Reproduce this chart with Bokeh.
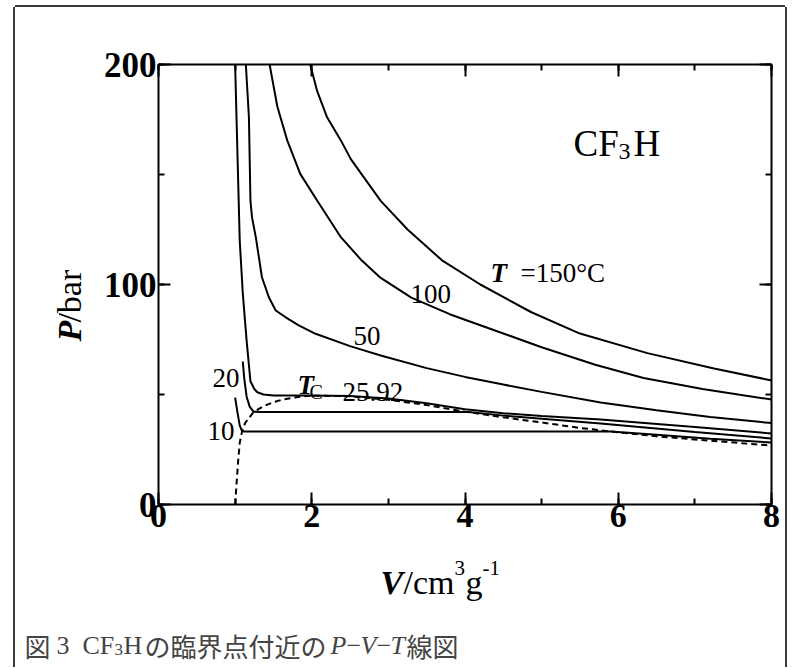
import math
from bokeh.plotting import figure
from bokeh.layouts import column, row
from bokeh.models import Label, LinearAxis, SingleIntervalTicker, Range1d, Spacer
from bokeh.embed import file_html
from bokeh.resources import INLINE

# ---------------- data ----------------
x_range = (0, 8)
y_range = (0, 200)

v_150 = [1.98, 2.07, 2.2, 2.38, 2.51, 2.9, 3.25, 3.7, 4.2, 4.86, 5.5, 6.38, 7.25, 8.0]
p_150 = [200, 188, 176, 165.5, 157, 138, 125, 111, 100, 87.5, 77.7, 68.8, 61.8, 56.4]

v_100 = [1.45, 1.55, 1.68, 1.85, 2.07, 2.38, 2.65, 2.9, 3.3, 3.8, 4.2, 5.0, 5.7, 6.33, 7.1, 8.0]
p_100 = [200, 181, 165.5, 150.3, 138.2, 121.5, 111, 103, 94, 86.5, 81.5, 71.5, 63.5, 57.5, 52.5, 47.7]

v_50 = [1.14, 1.18, 1.2, 1.22, 1.27, 1.31, 1.35, 1.44, 1.53, 1.66, 1.83, 2.05, 2.5, 2.9,
        3.5, 4.0, 4.5, 5.0, 5.77, 6.5, 7.2, 8.0]
p_50 = [200, 176, 138, 130.6, 121.5, 112.4, 103.3, 94.2, 88.2, 85.1, 81.4, 77.6, 72, 67.7,
        62, 58, 54.5, 51.2, 46.4, 42.8, 39.8, 37]

v_tc = [1.0, 1.03, 1.06, 1.1, 1.15, 1.2, 1.25, 1.29, 1.37, 1.5, 2.0, 2.5, 3.0, 3.5, 4.0,
        4.5, 5.0, 5.77, 7.0, 8.0]
p_tc = [200, 160, 120, 96, 74.5, 56, 52.5, 51, 50, 49.6, 49.5, 49.3, 48.2, 46, 43.3,
        41.5, 40.2, 38.6, 35.2, 32.3]

v_20 = [1.10, 1.12, 1.15, 1.19, 1.24, 1.35, 4.05, 4.5, 5.0, 5.77, 7.0, 8.0]
p_20 = [65, 57, 49, 44.5, 42.2, 42, 42, 40.4, 39.0, 36.8, 33, 30]

v_10 = [1.0, 1.03, 1.06, 1.09, 1.12, 5.9, 6.5, 7.2, 8.0]
p_10 = [48.6, 42, 36, 33.4, 33.2, 33.2, 31.7, 29.9, 28.2]

v_sat = [1.0, 1.02, 1.04, 1.06, 1.09, 1.13, 1.24, 1.36, 1.5, 1.63, 1.8, 2.0, 2.5, 3.0,
         3.5, 4.0, 4.5, 5.0, 5.5, 5.9, 6.5, 7.2, 8.0]
p_sat = [0, 10, 20, 28, 33.2, 37, 42, 44.5, 46.5, 47.8, 48.8, 49.5, 49.2, 47.6,
         45.2, 42.2, 39.6, 37.3, 34.8, 33.2, 31, 29, 26.8]

x_major_interval = 2
y_major_interval = 100

# ---------------- styling constants ----------------
FONT = "Liberation Serif"
CJK = "Noto Sans CJK JP"
BOXC = "#3a3a3a"

PAD_L = 15           # space left of the boxed area
PAD_T = 7            # space above the boxed area
LEFT_W = 75          # strip holding the rotated y title
MAIN_W = 695         # main figure width
TOP_H = 537          # height of the chart row
BOT_H = 123          # strip holding x title and caption

# ---------------- main figure ----------------
p = figure(
    width=MAIN_W, height=TOP_H,
    x_range=Range1d(*x_range), y_range=Range1d(*y_range),
    output_backend="svg", toolbar_location=None,
    min_border_left=68, min_border_right=14, min_border_top=57, min_border_bottom=40,
    background_fill_color="white", border_fill_color="white",
)
p.grid.visible = False
p.outline_line_color = None


def style_axis(ax, show_labels):
    ax.axis_line_width = 2
    ax.axis_line_color = "black"
    ax.major_tick_in = 12
    ax.major_tick_out = 0
    ax.minor_tick_in = 6
    ax.minor_tick_out = 0
    ax.major_tick_line_width = 2
    ax.minor_tick_line_width = 2
    ax.major_tick_line_color = "black"
    ax.minor_tick_line_color = "black"
    ax.major_label_text_font = FONT
    ax.major_label_text_font_style = "bold"
    if show_labels:
        ax.major_label_text_font_size = "34px"
        ax.major_label_text_color = "black"
    else:
        ax.major_label_text_font_size = "1px"
        ax.major_label_text_color = None
        ax.major_label_standoff = 0
    ax.axis_label = None


p.xaxis.ticker = SingleIntervalTicker(interval=x_major_interval, num_minor_ticks=2)
p.yaxis.ticker = SingleIntervalTicker(interval=y_major_interval, num_minor_ticks=2)
style_axis(p.xaxis[0], True)
style_axis(p.yaxis[0], True)
p.yaxis.major_label_text_font_size = "35px"
p.xaxis.major_label_standoff = 0
p.yaxis.major_label_standoff = 2

top_ax = LinearAxis(ticker=SingleIntervalTicker(interval=x_major_interval, num_minor_ticks=2))
right_ax = LinearAxis(ticker=SingleIntervalTicker(interval=y_major_interval, num_minor_ticks=2))
style_axis(top_ax, False)
style_axis(right_ax, False)
p.add_layout(top_ax, "above")
p.add_layout(right_ax, "right")

# curves
LW = 2
for vs, ps in [(v_150, p_150), (v_100, p_100), (v_50, p_50), (v_tc, p_tc), (v_20, p_20), (v_10, p_10)]:
    p.line(vs, ps, line_color="black", line_width=LW)
p.line(v_sat, p_sat, line_color="black", line_width=LW, line_dash="6 4")


def lab(fig, x, y, text, size, style="normal", font=FONT, color="black", dx=0, angle=0):
    fig.add_layout(Label(x=x, y=y, text=text, text_font=font, text_font_size=f"{size}px",
                         text_font_style=style, text_color=color, text_align="left",
                         text_baseline="alphabetic", x_offset=dx, angle=angle))


# in-plot labels (data coordinates)
lab(p, 4.333, 105.45, "T", 27, "bold italic")
lab(p, 4.724, 105.45, "=150°C", 27)
lab(p, 3.289, 95.9, "100", 27)
lab(p, 2.545, 76.8, "50", 27)
lab(p, 0.705, 57.7, "20", 27)
lab(p, 0.64, 33.6, "10", 27)
lab(p, 1.814, 54.1, "T", 27, "bold italic")
lab(p, 1.814, 51.0, "C", 20, dx=12)
lab(p, 2.40, 51.0, "25.92", 27)
lab(p, 5.416, 164.1, "CF", 37)
lab(p, 6.003, 160.6, "3", 24)
lab(p, 6.199, 164.1, "H", 37)


def strip(w, h):
    f = figure(
        width=w, height=h, x_range=Range1d(0, w), y_range=Range1d(0, h),
        output_backend="svg", toolbar_location=None, min_border=0,
        x_axis_type=None, y_axis_type=None,
        background_fill_color="white", border_fill_color="white",
    )
    f.grid.visible = False
    f.outline_line_color = None
    return f


# ---------------- left strip: y title ----------------
left = strip(LEFT_W, TOP_H)
lab(left, 54, 199, "P", 34, "bold italic", angle=math.pi / 2)
lab(left, 54, 222, "/bar", 34, angle=math.pi / 2)

# ---------------- bottom strip: x title + caption ----------------
bot = strip(LEFT_W + MAIN_W, BOT_H)

XT, YT = 365, 85
lab(bot, XT, YT, "V", 34, "bold italic")
lab(bot, XT, YT, "/cm", 34, dx=23)
lab(bot, XT, YT + 15, "3", 21, dx=74)
lab(bot, XT, YT, "g", 34, dx=85)
lab(bot, XT, YT + 15, "-1", 21, dx=102)

CX, CY = 9, 22
CAP = "#444444"
lab(bot, CX, CY, "図", 26, font=CJK, color=CAP)
lab(bot, CX, CY, "3", 26, color=CAP, dx=32)
lab(bot, CX, CY, "CF", 26, color=CAP, dx=58)
lab(bot, CX, CY - 4, "3", 17, color=CAP, dx=90)
lab(bot, CX, CY, "H", 26, color=CAP, dx=99)
lab(bot, CX, CY, "の臨界点付近の", 26, font=CJK, color=CAP, dx=120)
lab(bot, CX, CY, "P", 26, "italic", color=CAP, dx=306)
lab(bot, CX, CY, "−", 26, color=CAP, dx=322)
lab(bot, CX, CY, "V", 26, "italic", color=CAP, dx=336)
lab(bot, CX, CY, "−", 26, color=CAP, dx=352)
lab(bot, CX, CY, "T", 26, "italic", color=CAP, dx=366)
lab(bot, CX, CY, "線図", 26, font=CJK, color=CAP, dx=382)

boxed = column(row(left, p, spacing=0), bot, spacing=0,
               styles={"box-shadow": f"-2px 0 0 0 {BOXC}, 2px 0 0 0 {BOXC}, 0 -2px 0 0 {BOXC}"})
layout = column(Spacer(width=10, height=PAD_T),
                row(Spacer(width=PAD_L, height=10), boxed, spacing=0), spacing=0)
open("out.html", "w").write(file_html(layout, INLINE))
